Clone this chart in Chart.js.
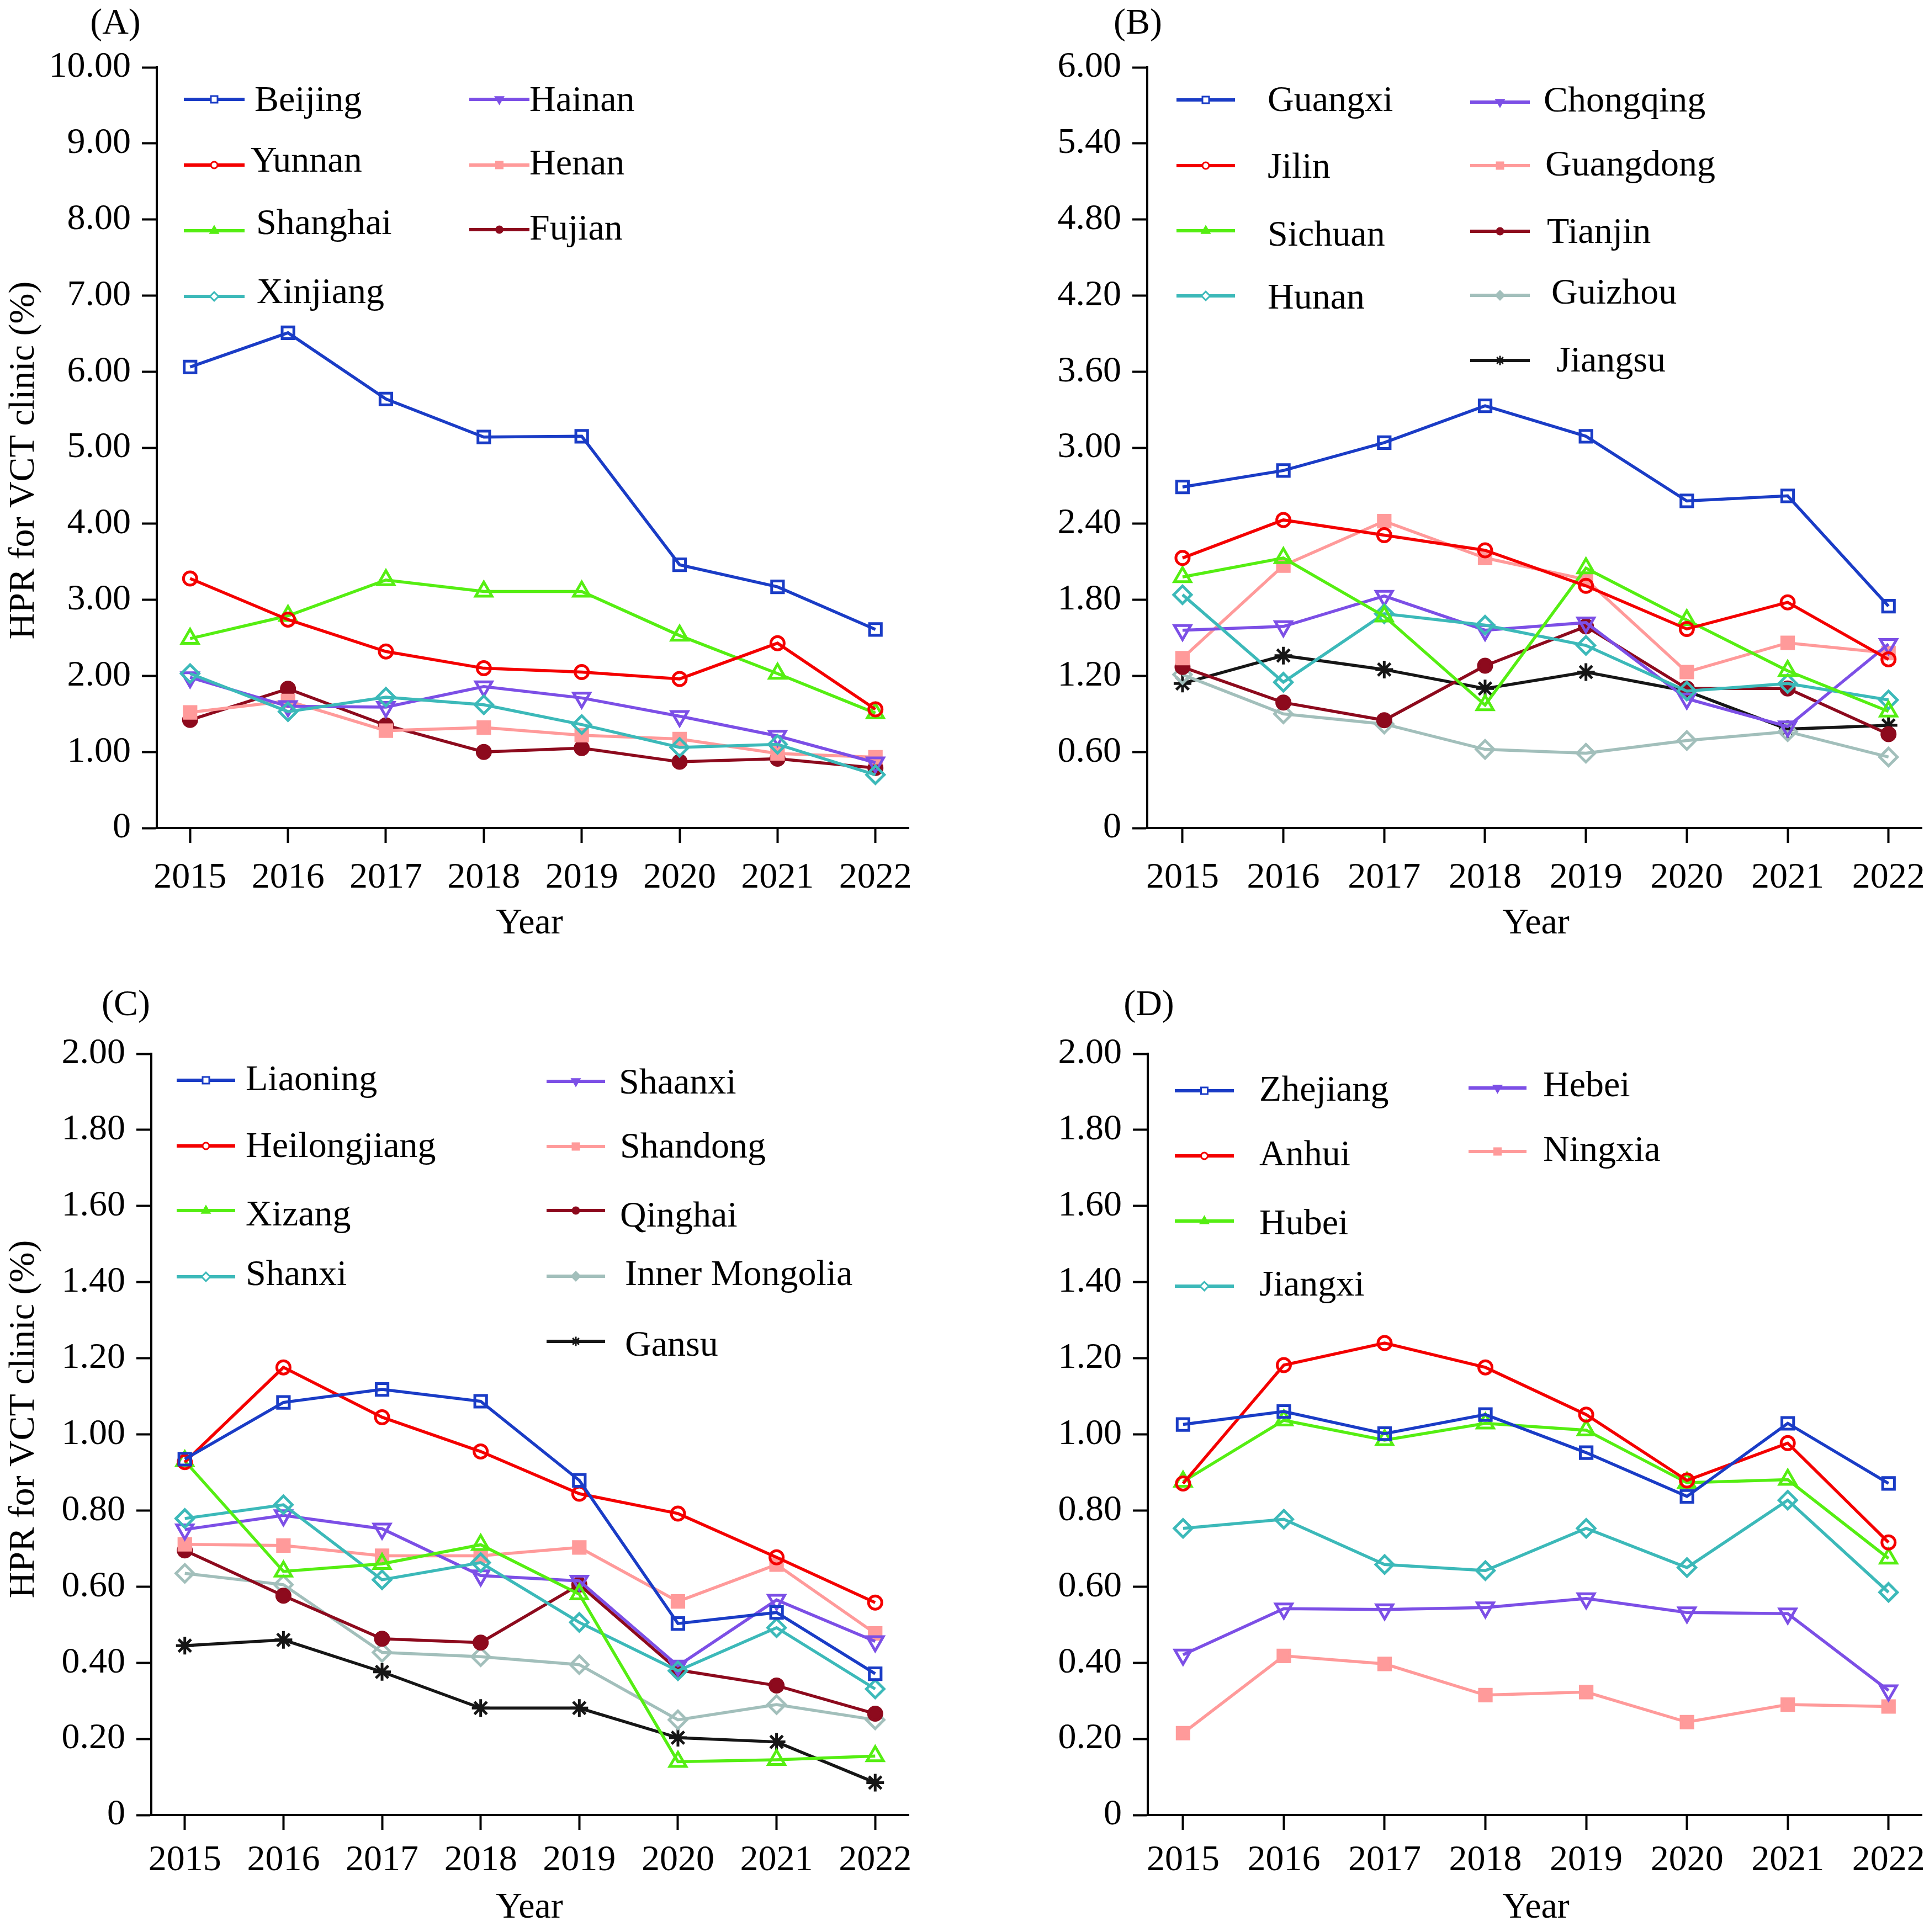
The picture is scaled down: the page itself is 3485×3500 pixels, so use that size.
<!DOCTYPE html>
<html>
<head>
<meta charset="utf-8">
<script src="https://cdn.jsdelivr.net/npm/chart.js@4.4.1/dist/chart.umd.min.js"></script>
<style>
html, body { margin: 0; padding: 0; background: #fff; }
#wrap { position: relative; width: 3485px; height: 3500px; background: #fff; }
canvas { position: absolute; }
</style>
</head>
<body>
<div id="wrap">
<canvas id="chartA" width="1742" height="1750" style="left:0;top:0;width:1742px;height:1750px"></canvas>
<canvas id="chartB" width="1743" height="1750" style="left:1742px;top:0;width:1743px;height:1750px"></canvas>
<canvas id="chartC" width="1742" height="1750" style="left:0;top:1750px;width:1742px;height:1750px"></canvas>
<canvas id="chartD" width="1743" height="1750" style="left:1742px;top:1750px;width:1743px;height:1750px"></canvas>
</div>
<script>
const years = [2015, 2016, 2017, 2018, 2019, 2020, 2021, 2022];

// (A)
const ticksA = [0, 1, 2, 3, 4, 5, 6, 7, 8, 9, 10];
const namesA = ["Beijing", "Yunnan", "Shanghai", "Xinjiang", "Hainan", "Henan", "Fujian"];
const beijing  = [6.06, 6.51, 5.64, 5.14, 5.15, 3.46, 3.17, 2.61];
const yunnan   = [3.28, 2.74, 2.32, 2.10, 2.05, 1.96, 2.43, 1.56];
const shanghai = [2.49, 2.79, 3.26, 3.11, 3.11, 2.53, 2.03, 1.51];
const xinjiang = [2.03, 1.53, 1.72, 1.62, 1.36, 1.06, 1.10, 0.70];
const hainan   = [1.98, 1.60, 1.59, 1.86, 1.71, 1.47, 1.21, 0.86];
const henan    = [1.52, 1.67, 1.28, 1.32, 1.22, 1.17, 0.98, 0.93];
const fujian   = [1.42, 1.83, 1.35, 1.00, 1.05, 0.87, 0.91, 0.79];

// (B)
const ticksB = [0, 0.6, 1.2, 1.8, 2.4, 3.0, 3.6, 4.2, 4.8, 5.4, 6.0];
const namesB = ["Guangxi", "Jilin", "Sichuan", "Hunan", "Chongqing", "Guangdong", "Tianjin", "Guizhou", "Jiangsu"];
const guangxi   = [2.69, 2.82, 3.04, 3.33, 3.09, 2.58, 2.62, 1.75];
const jilin     = [2.13, 2.43, 2.31, 2.19, 1.91, 1.57, 1.78, 1.33];
const sichuan   = [1.98, 2.13, 1.67, 0.97, 2.05, 1.64, 1.24, 0.92];
const hunan     = [1.84, 1.15, 1.69, 1.60, 1.44, 1.08, 1.14, 1.01];
const chongqing = [1.56, 1.59, 1.83, 1.56, 1.62, 1.02, 0.80, 1.45];
const guangdong = [1.34, 2.07, 2.42, 2.13, 1.96, 1.23, 1.46, 1.38];
const tianjin   = [1.27, 0.99, 0.85, 1.28, 1.59, 1.10, 1.10, 0.74];
const guizhou   = [1.21, 0.90, 0.82, 0.62, 0.59, 0.69, 0.76, 0.56];
const jiangsu   = [1.14, 1.36, 1.25, 1.10, 1.23, 1.08, 0.78, 0.81];

// (C)
const ticksC = [0, 0.2, 0.4, 0.6, 0.8, 1.0, 1.2, 1.4, 1.6, 1.8, 2.0];
const namesC = ["Liaoning", "Heilongjiang", "Xizang", "Shanxi", "Shaanxi", "Shandong", "Qinghai", "Inner Mongolia", "Gansu"];
const liaoning      = [0.935, 1.084, 1.118, 1.087, 0.879, 0.503, 0.532, 0.371];
const heilongjiang  = [0.927, 1.176, 1.045, 0.955, 0.844, 0.792, 0.677, 0.558];
const xizang        = [0.930, 0.640, 0.660, 0.710, 0.580, 0.140, 0.145, 0.155];
const shanxi        = [0.779, 0.815, 0.618, 0.663, 0.506, 0.379, 0.492, 0.331];
const shaanxi       = [0.750, 0.787, 0.752, 0.629, 0.615, 0.392, 0.565, 0.456];
const shandong      = [0.711, 0.708, 0.681, 0.681, 0.703, 0.561, 0.658, 0.477];
const qinghai       = [0.695, 0.576, 0.463, 0.453, 0.605, 0.381, 0.340, 0.266];
const innerMongolia = [0.635, 0.605, 0.427, 0.416, 0.395, 0.250, 0.290, 0.250];
const gansu         = [0.445, 0.460, 0.376, 0.281, 0.281, 0.203, 0.192, 0.085];

// (D)
const ticksD = [0, 0.2, 0.4, 0.6, 0.8, 1.0, 1.2, 1.4, 1.6, 1.8, 2.0];
const namesD = ["Zhejiang", "Anhui", "Hubei", "Jiangxi", "Hebei", "Ningxia"];
const zhejiang = [1.026, 1.060, 1.002, 1.052, 0.952, 0.837, 1.029, 0.871];
const anhui    = [0.871, 1.182, 1.240, 1.176, 1.052, 0.879, 0.977, 0.716];
const hubei    = [0.876, 1.037, 0.985, 1.029, 1.011, 0.873, 0.881, 0.674];
const jiangxi  = [0.753, 0.777, 0.658, 0.642, 0.753, 0.650, 0.827, 0.585];
const hebei    = [0.421, 0.542, 0.540, 0.545, 0.569, 0.532, 0.529, 0.327];
const ningxia  = [0.215, 0.418, 0.397, 0.315, 0.323, 0.244, 0.290, 0.285];

const FONT = "'Liberation Serif', 'Times New Roman', serif";
const FS = 66;
const CAP = 22; // half of the cap height

// marker look per series slot (fill = data point, lfill = legend symbol)
const marks = [
    { color: "#1a3cc6", style: "rect",     rot: 0,   fill: false, lfill: false, r: 15 },
    { color: "#f40000", style: "circle",   rot: 0,   fill: false, lfill: false, r: 12 },
    { color: "#55ee12", style: "triangle", rot: 0,   fill: false, lfill: true,  r: 17 },
    { color: "#3cb9b9", style: "rectRot",  rot: 0,   fill: false, lfill: false, r: 16 },
    { color: "#7c4fe6", style: "triangle", rot: 180, fill: false, lfill: true,  r: 17 },
    { color: "#ff9a9a", style: "rect",     rot: 0,   fill: true,  lfill: true,  r: 15 },
    { color: "#8d0a1d", style: "circle",   rot: 0,   fill: true,  lfill: true,  r: 12 },
    { color: "#a2bfbb", style: "rectRot",  rot: 0,   fill: false, lfill: true,  r: 16 },
    { color: "#161616", style: "star",     rot: 0,   fill: false, lfill: false, r: 16 }
];

function drawMark(ctx, m, x, y, r) {
    ctx.beginPath();
    if (m.style === "circle") {
        ctx.arc(x, y, r, 0, Math.PI * 2);
    } else if (m.style === "rect") {
        ctx.rect(x - r, y - r, 2 * r, 2 * r);
    } else if (m.style === "rectRot") {
        ctx.moveTo(x - r * 1.3, y);
        ctx.lineTo(x, y - r * 1.3);
        ctx.lineTo(x + r * 1.3, y);
        ctx.lineTo(x, y + r * 1.3);
        ctx.closePath();
    } else if (m.style === "triangle") {
        const d = m.rot ? 1 : -1;
        ctx.moveTo(x, y + d * r * 1.3);
        ctx.lineTo(x - r * 1.15, y - d * r * 0.7);
        ctx.lineTo(x + r * 1.15, y - d * r * 0.7);
        ctx.closePath();
    } else if (m.style === "star") {
        const k = r * 1.4;
        ctx.moveTo(x, y - k); ctx.lineTo(x, y + k);
        ctx.moveTo(x - k, y); ctx.lineTo(x + k, y);
        ctx.moveTo(x - k * 0.7, y - k * 0.7); ctx.lineTo(x + k * 0.7, y + k * 0.7);
        ctx.moveTo(x + k * 0.7, y - k * 0.7); ctx.lineTo(x - k * 0.7, y + k * 0.7);
    }
    if (m.style !== "star") {
        ctx.fillStyle = m.lfill ? m.color : "#fff";
        ctx.fill();
    }
    ctx.strokeStyle = m.color;
    ctx.lineWidth = 3;
    ctx.stroke();
}

function decoPlugin(d) {
    return {
        id: "deco",
        afterDraw(chart) {
            const ctx = chart.ctx;
            ctx.save();
            ctx.fillStyle = "#000";
            ctx.font = FS + "px " + FONT;
            ctx.textBaseline = "alphabetic";
            ctx.textAlign = "center";
            ctx.fillText(d.panel, d.panelX, d.panelY + CAP);
            ctx.fillText("Year", d.yearX, d.yearY + CAP);
            if (d.yTitleX) {
                ctx.save();
                ctx.translate(d.yTitleX + CAP, d.yTitleY);
                ctx.rotate(-Math.PI / 2);
                ctx.fillText("HPR for VCT clinic (%)", 0, 0);
                ctx.restore();
            }
            // legend
            d.legend.forEach((it, i) => {
                const m = marks[i];
                ctx.strokeStyle = m.color;
                ctx.lineWidth = 6;
                ctx.beginPath();
                ctx.moveTo(it[0], it[2]);
                ctx.lineTo(it[1], it[2]);
                ctx.stroke();
                drawMark(ctx, m, (it[0] + it[1]) / 2, it[2], 6);
                ctx.fillStyle = "#000";
                ctx.textAlign = "left";
                ctx.fillText(d.names[i], it[3], it[4] + CAP);
            });
            ctx.restore();
        }
    };
}

function makeChart(id, box, yTicks, names, series, deco) {
    const el = document.getElementById(id);
    const W = el.width, H = el.height;
    const yMax = yTicks[yTicks.length - 1];
    deco.names = names;
    return new Chart(el, {
        type: "line",
        data: {
            labels: years,
            datasets: series.map((vals, i) => {
                const m = marks[i];
                return {
                    label: names[i],
                    data: vals,
                    borderColor: m.color,
                    borderWidth: 5.5,
                    tension: 0,
                    pointStyle: m.style,
                    pointRotation: m.rot,
                    pointRadius: m.r,
                    pointBorderWidth: 5,
                    pointBorderColor: m.color,
                    pointBackgroundColor: m.fill ? m.color : "rgba(255,255,255,0)"
                };
            })
        },
        options: {
            responsive: false,
            animation: false,
            devicePixelRatio: 1,
            layout: {
                autoPadding: false,
                padding: { left: 0, top: box.top, right: W - box.right, bottom: 0 }
            },
            plugins: { legend: { display: false }, tooltip: { enabled: false } },
            scales: {
                x: {
                    type: "linear",
                    min: box.xmin,
                    max: box.xmax,
                    afterBuildTicks: s => { s.ticks = years.map(v => ({ value: v })); },
                    afterFit: s => {
                        s.height = H - box.bottom;
                        s.paddingLeft = 0;
                        s.paddingRight = 0;
                    },
                    border: { display: true, color: "#000", width: 4 },
                    grid: { display: true, drawOnChartArea: false, drawTicks: true, tickLength: 27, tickWidth: 4, tickColor: "#000" },
                    ticks: {
                        color: "#000",
                        font: { family: FONT, size: FS },
                        padding: box.xpad,
                        autoSkip: false,
                        maxRotation: 0,
                        callback: v => String(v)
                    }
                },
                y: {
                    min: 0,
                    max: yMax,
                    afterBuildTicks: s => { s.ticks = yTicks.map(v => ({ value: v })); },
                    afterFit: s => { s.width = box.left; },
                    border: { display: true, color: "#000", width: 4 },
                    grid: { display: true, drawOnChartArea: false, drawTicks: true, tickLength: 27, tickWidth: 4, tickColor: "#000" },
                    ticks: {
                        color: "#000",
                        font: { family: FONT, size: FS },
                        padding: 20,
                        callback: v => v === 0 ? "0" : v.toFixed(2)
                    }
                }
            }
        },
        plugins: [decoPlugin(deco)]
    });
}

document.addEventListener("DOMContentLoaded", () => {
    makeChart("chartA",
        { left: 284, right: 1646, top: 122, bottom: 1500, xmin: 2014.66, xmax: 2022.34, xpad: 24 },
        ticksA, namesA,
        [beijing, yunnan, shanghai, xinjiang, hainan, henan, fujian],
        {
            panel: "(A)", panelX: 209, panelY: 39,
            yearX: 959, yearY: 1669,
            yTitleX: 39, yTitleY: 834,
            legend: [
                [333, 443, 180, 461, 179],
                [333, 443, 299, 454, 289],
                [333, 443, 418, 464, 402],
                [333, 443, 537, 465, 527],
                [850, 959, 180, 959, 179],
                [850, 959, 299, 959, 294],
                [850, 959, 416, 959, 412]
            ]
        });

    makeChart("chartB",
        { left: 336, right: 1739, top: 122, bottom: 1500, xmin: 2014.65, xmax: 2022.33, xpad: 24 },
        ticksB, namesB,
        [guangxi, jilin, sichuan, hunan, chongqing, guangdong, tianjin, guizhou, jiangsu],
        {
            panel: "(B)", panelX: 319, panelY: 39,
            yearX: 1040, yearY: 1669,
            legend: [
                [389, 495, 181, 554, 179],
                [389, 495, 300, 554, 300],
                [389, 495, 418, 554, 423],
                [389, 495, 536, 554, 537],
                [921, 1029, 185, 1054, 180],
                [921, 1029, 300, 1057, 296],
                [921, 1029, 419, 1060, 418],
                [921, 1029, 535, 1068, 528],
                [921, 1029, 653, 1077, 651]
            ]
        });

    makeChart("chartC",
        { left: 274, right: 1646, top: 159, bottom: 1538, xmin: 2014.66, xmax: 2022.34, xpad: 16 },
        ticksC, namesC,
        [liaoning, heilongjiang, xizang, shanxi, shaanxi, shandong, qinghai, innerMongolia, gansu],
        {
            panel: "(C)", panelX: 228, panelY: 67,
            yearX: 959, yearY: 1702,
            yTitleX: 39, yTitleY: 821,
            legend: [
                [320, 426, 207, 445, 203],
                [320, 426, 326, 445, 324],
                [320, 426, 443, 445, 448],
                [320, 426, 563, 445, 556],
                [990, 1096, 209, 1121, 209],
                [990, 1096, 327, 1123, 325],
                [990, 1096, 443, 1123, 450],
                [990, 1096, 562, 1132, 556],
                [990, 1096, 680, 1132, 684]
            ]
        });

    makeChart("chartD",
        { left: 337, right: 1739, top: 159, bottom: 1538, xmin: 2014.65, xmax: 2022.33, xpad: 16 },
        ticksD, namesD,
        [zhejiang, anhui, hubei, jiangxi, hebei, ningxia],
        {
            panel: "(D)", panelX: 339, panelY: 67,
            yearX: 1040, yearY: 1702,
            legend: [
                [386, 493, 226, 539, 222],
                [386, 493, 344, 539, 339],
                [386, 493, 462, 539, 464],
                [386, 493, 580, 539, 575],
                [918, 1023, 221, 1053, 214],
                [918, 1023, 336, 1053, 331]
            ]
        });
});
</script>
</body>
</html>
